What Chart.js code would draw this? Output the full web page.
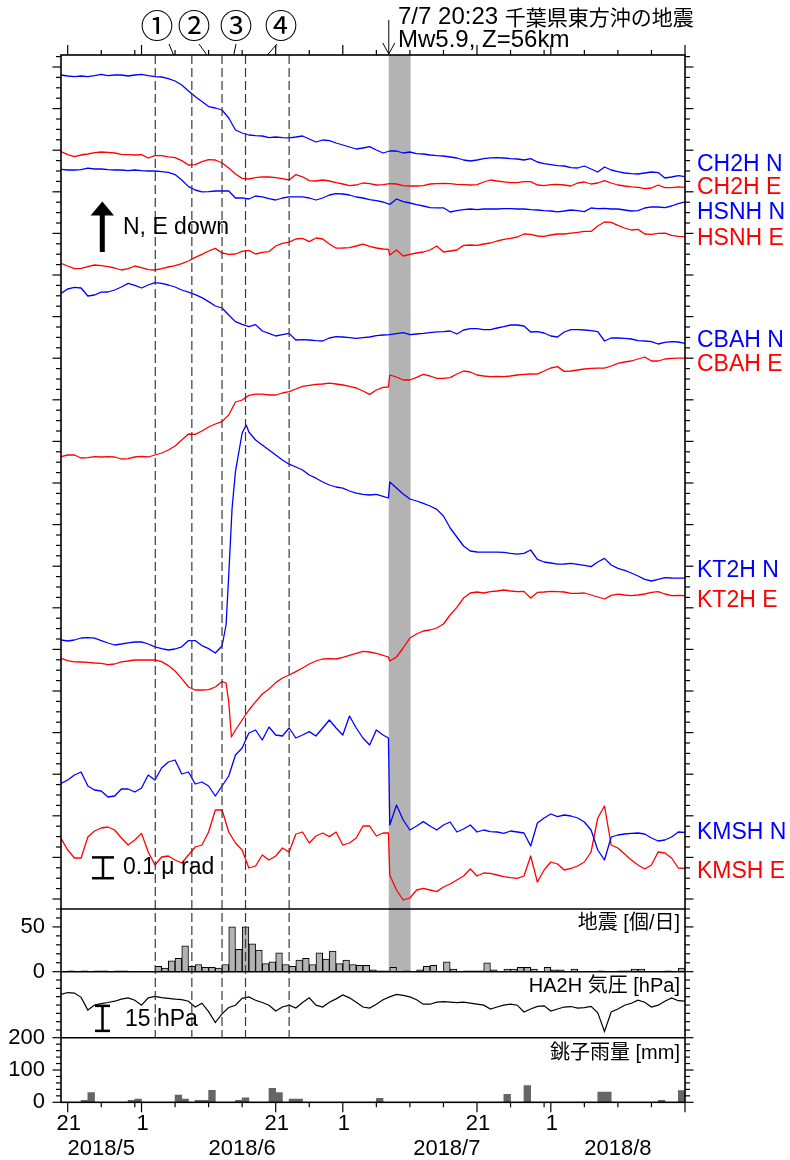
<!DOCTYPE html>
<html><head><meta charset="utf-8">
<script src="https://cdn.jsdelivr.net/npm/chart.js@4.4.1/dist/chart.umd.min.js"></script>
<style>html,body{margin:0;padding:0;background:#fff;}canvas{display:block;}</style>
</head><body>
<canvas id="c" width="790" height="1160"></canvas>
<script>
// ---------------- DATA ----------------
// time axis: days since 2018-05-20 00:00 (daily samples)
const DAYS = [0,1,2,3,4,5,6,7,8,9,10,11,12,13,14,15,16,17,18,19,20,21,22,23,24,25,26,27,28,29,30,31,32,33,34,35,36,37,38,39,40,41,42,43,44,45,46,47,48,49,50,51,52,53,54,55,56,57,58,59,60,61,62,63,64,65,66,67,68,69,70,71,72,73,74,75,76,77,78,79,80,81,82,83,84,85,86,87,88,89,90,91,92,93];
const EQ_DAY = 48.85;       // 2018-07-07 20:23
const BAND_END = 52.1;
const DASH_DAYS = [14.05, 19.5, 24.0, 27.5, 34.0];
const PERIOD_MARKS = ['\u2460','\u2461','\u2462','\u2463'];

// tilt traces: change relative to start (tilt units, 52 = 0.05 μrad), plus display offsets
const TRACE_NAMES = ['CH2H N','CH2H E','HSNH N','HSNH E','CBAH N','CBAH E','KT2H N','KT2H E','KMSH N','KMSH E'];
const TRACE_OFFSETS = [4170, 3785, 3700, 3230, 3080, 2260, 1345, 1255, 630, 355];

const CH2H_N = [0,-5,-8,-5,-8,-3,3,-3,0,0,
 -5,0,3,-3,-8,-10,-18,-30,-50,-80,
 -108,-133,-158,-165,-175,-215,-275,-290,-300,-303,
 -305,-313,-310,-313,-314,-310,-305,-320,-335,-325,
 -328,-340,-350,-360,-370,-365,-358,-375,-390,-380,
 -380,-390,-385,-393,-395,-400,-403,-405,-410,-415,
 -425,-430,-425,-418,-414,-413,-415,-418,-420,-425,
 -418,-435,-443,-448,-453,-455,-463,-465,-455,-470,
 -485,-460,-475,-483,-490,-493,-495,-490,-485,-488,
 -515,-510,-503,-508];
const CH2H_E = [2,-13,-23,-15,-10,-3,0,-2,-5,-12,
 -13,-15,-13,-30,-18,-18,-24,-28,-43,-65,
 -63,-48,-38,-40,-55,-80,-110,-132,-135,-128,
 -124,-125,-128,-133,-140,-113,-124,-143,-145,-140,
 -145,-153,-160,-168,-165,-155,-158,-165,-163,-158,
 -160,-168,-170,-170,-168,-160,-158,-157,-158,-162,
 -163,-165,-163,-150,-140,-145,-149,-153,-153,-148,
 -148,-165,-168,-163,-162,-165,-170,-155,-150,-160,
 -155,-143,-155,-165,-170,-174,-177,-183,-180,-165,
 -178,-178,-174,-177];
const HSNH_N = [-2,-5,-5,-3,4,0,0,-3,-5,-5,
 -8,-5,-8,-10,-10,-13,-17,-28,-55,-88,
 -105,-114,-113,-110,-110,-110,-145,-144,-150,-135,
 -139,-148,-155,-145,-139,-139,-139,-145,-155,-145,
 -130,-123,-125,-130,-140,-145,-153,-158,-165,-177,
 -150,-163,-170,-178,-185,-193,-194,-194,-215,-208,
 -203,-200,-203,-200,-200,-200,-198,-198,-200,-200,
 -203,-205,-208,-210,-214,-210,-205,-208,-213,-195,
 -198,-197,-200,-200,-205,-210,-208,-195,-189,-190,
 -193,-185,-173,-164];
const HSNH_E = [-2,-15,-28,-27,-18,-10,-13,-18,-25,-35,
 -28,-15,-23,-33,-35,-28,-20,-13,-3,10,
 28,43,60,73,50,43,45,58,63,45,
 53,57,85,98,104,120,123,107,125,120,
 95,74,75,77,85,94,83,75,70,40,
 65,35,43,50,55,65,85,55,60,65,
 88,90,88,95,100,110,118,123,130,145,
 143,135,133,140,145,145,149,153,158,158,
 185,205,203,188,175,165,168,145,143,148,
 149,138,133,132];
const CBAH_N = [-2,20,28,25,-15,-10,4,5,15,30,
 48,38,25,40,52,48,40,30,15,4,
 -8,-23,-43,-65,-75,-110,-143,-157,-168,-158,
 -190,-202,-215,-208,-202,-235,-233,-235,-238,-240,
 -225,-218,-220,-223,-227,-223,-220,-213,-210,-208,
 -203,-198,-208,-205,-202,-198,-194,-193,-190,-205,
 -185,-178,-178,-183,-183,-175,-168,-160,-160,-165,
 -195,-193,-200,-215,-220,-195,-183,-183,-185,-188,
 -193,-240,-225,-225,-227,-230,-238,-240,-243,-255,
 -247,-243,-245,-252];
const CBAH_E = [2,10,10,-5,-3,2,0,2,0,-10,
 -8,0,3,0,10,20,35,55,85,115,
 113,130,150,165,177,210,275,285,308,314,
 314,310,310,320,327,340,353,358,363,365,
 369,365,360,353,345,330,313,335,348,410,
 400,385,385,398,413,405,393,393,397,415,
 430,425,410,405,402,403,402,405,410,413,
 415,414,430,445,452,428,430,435,440,443,
 444,444,455,468,475,480,490,500,480,480,
 490,493,494,494];
const KT2H_N = [0,-5,0,10,12,9,-3,-15,-25,-20,
 -14,-10,-9,-20,-34,-43,-50,-45,-34,-3,
 -3,-28,-43,-65,-30,325,842,1035,1040,1000,
 975,950,925,900,879,865,850,825,809,790,
 775,765,759,745,734,728,725,728,718,790,
 760,730,705,695,683,670,653,620,560,515,
 470,445,440,439,439,439,438,433,429,433,
 450,403,390,385,379,380,383,378,373,367,
 390,408,375,358,348,335,320,303,295,303,
 312,310,309,309];
const KT2H_E = [-2,-13,-19,-20,-22,-25,-27,-33,-30,-19,
 -15,-10,-10,-10,-10,-18,-38,-65,-103,-145,
 -160,-160,-158,-145,-118,-219,-360,-310,-260,-219,
 -180,-155,-123,-100,-85,-68,-50,-30,-15,-5,
 -3,-5,3,13,23,33,30,23,13,-15,
 5,50,100,120,135,140,150,170,215,253,
 300,325,330,325,332,335,340,335,332,333,
 300,328,330,333,332,330,323,323,325,315,
 305,295,313,319,315,312,315,320,328,332,
 320,312,313,312];
const KMSH_N = [-2,15,40,55,-15,-35,-40,-70,-65,-30,
 -30,-45,-25,40,15,75,105,115,45,55,
 -5,5,-15,-65,-15,35,140,175,250,265,
 215,280,240,235,275,225,240,257,235,275,
 315,275,240,335,275,225,190,265,240,-210,
 -110,-185,-235,-215,-193,-215,-235,-210,-195,-245,
 -230,-210,-245,-235,-243,-245,-252,-240,-245,-250,
 -315,-200,-175,-155,-168,-160,-165,-175,-195,-235,
 -335,-385,-270,-260,-255,-252,-250,-255,-275,-290,
 -285,-270,-245,-247];
const KMSH_E = [-2,-60,-100,-100,5,35,50,55,40,0,
 -35,-10,23,-70,-135,-95,-90,-110,-125,-85,
 -45,-35,30,140,140,30,-25,-60,-150,-140,
 -85,-110,-90,-50,-70,20,30,-25,10,25,
 7,30,-35,-25,0,60,60,10,25,-185,
 -260,-310,-300,-260,-252,-260,-268,-245,-230,-210,
 -190,-155,-190,-175,-177,-185,-193,-198,-202,-190,
 -90,-220,-160,-120,-130,-160,-152,-140,-120,-70,
 100,160,-35,-50,-80,-110,-135,-155,-135,-70,
 -75,-100,-150,-152];
// extra sub-daily samples around sharp changes
const EXTRA_DAYS = {
  'HSNH E': [48.8], 'CBAH E': [48.8], 'KT2H N': [24.6, 25.5, 27.6, 48.8],
  'KT2H E': [24.6, 25.4, 48.8], 'KMSH N': [48.8], 'KMSH E': [48.8]
};
const EXTRA_VALS = {
  'HSNH E': [68], 'CBAH E': [350], 'KT2H N': [75, 660, 1075, 710],
  'KT2H E': [-125, -395, 5], 'KMSH N': [225], 'KMSH E': [25]
};

// earthquakes per day (day d covers [d, d+1))
const EQ_COUNTS = [0,1,0,1,0,1,1,0,1,1,
 0,0,0,0,6,4,12,15,29,6,
 8,5,5,4,8,50,25,50,31,24,
 9,11,21,8,6,13,15,8,21,14,
 23,9,13,8,7,7,2,1,1,5,
 0,1,0,2,6,7,0,11,3,0,
 1,1,1,10,2,0,3,3,5,5,
 3,0,5,2,2,0,3,0,0,0,
 1,0,0,1,1,3,3,0,0,0,
 1,0,4];
// HA2H air pressure, hPa
const PRESSURE = [1006.4,1007.5,1007.2,1004.6,997.0,1000.0,1000.8,1001.5,1002.3,1003.5,
 1004.3,1002.9,999.9,1004.3,1005.2,1004.4,1004.0,1003.5,1003.2,1002.3,
 998.8,1001.1,996.0,989.5,994.7,998.5,999.9,1004.0,1004.9,1002.9,
 1001.5,999.9,996.4,998.8,999.9,998.2,1001.5,1004.3,999.9,998.8,
 1001.7,1003.7,1006.1,1004.3,1001.7,998.8,998.2,1000.5,1003.2,1004.9,
 1006.4,1005.8,1004.9,1003.2,1000.5,1000.5,1001.7,1002.0,1001.7,1001.4,
 1001.7,1001.1,1000.5,999.9,997.6,998.8,999.9,1000.5,999.9,995.8,
 997.6,999.2,999.5,996.4,997.6,998.8,999.1,998.2,998.5,999.2,
 995.3,984.2,995.8,997.6,999.9,1001.1,1002.9,1001.7,998.8,999.9,
 1002.3,1004.3,1002.6,1002.3];
// Choshi daily rainfall, mm
const RAIN = [0,0,0,6,30,0,0,0,0,0,
 6,10,0,0,0,0,0,22,10,0,
 6,6,37,0,0,0,6,14,0,0,
 0,43,30,0,10,10,0,0,0,0,
 0,0,0,0,0,0,0,12,0,0,
 0,0,0,0,0,0,0,0,0,0,
 0,0,0,0,0,0,25,0,0,52,
 0,0,0,0,0,0,0,0,0,0,
 32,32,0,0,0,0,0,0,0,6,
 0,0,36];

const X_TICK_DAYS = [1,6,11,12,17,22,27,32,37,42,47,52,57,62,67,72,73,78,83,88,93];
const X_TICK_LABELS = ['21','','','1','','','','21','','1','','','','21','','','1','','','',''];
const MONTH_LABELS = ['2018/5','2018/6','2018/7','2018/8'];
const MONTH_CENTERS = [6, 27, 57.5, 83];

// ---------------- LAYOUT ----------------
const AREA = {left: 61, right: 685, top: 55, bottom: 1102.3};
const PANELS = {
  yT: {top: 55, bottom: 909, min: 0, max: 4270},
  yE: {top: 909, bottom: 971.7, min: 0, max: 70},
  yP: {top: 971.7, bottom: 1037.7, min: 980.4, max: 1020},
  yR: {top: 1037.7, bottom: 1102.3, min: 0, max: 200}
};
function fullRange(p) {
  const k = (p.max - p.min) / (p.bottom - p.top);
  return {min: p.min - (AREA.bottom - p.bottom) * k, max: p.max + (p.top - AREA.top) * k};
}
const BLUE = '#0000ff', RED = '#ff0000';
const SERIES = [CH2H_N, CH2H_E, HSNH_N, HSNH_E, CBAH_N, CBAH_E, KT2H_N, KT2H_E, KMSH_N, KMSH_E];
const LABEL_Y = [165, 188, 213, 239, 341, 365, 571, 601, 833, 872];

function tracePoints(i) {
  const name = TRACE_NAMES[i], off = TRACE_OFFSETS[i], vals = SERIES[i];
  const pts = DAYS.map((d, j) => ({x: d, y: off + vals[j]}));
  (EXTRA_DAYS[name] || []).forEach((d, j) => pts.push({x: d, y: off + EXTRA_VALS[name][j]}));
  pts.sort((a, b) => a.x - b.x);
  return pts;
}

const datasets = [];
TRACE_NAMES.forEach((n, i) => {
  datasets.push({type: 'line', label: n, data: tracePoints(i), yAxisID: 'yT',
    borderColor: i % 2 === 0 ? BLUE : RED, borderWidth: 1.3, pointRadius: 0, tension: 0,
    borderJoinStyle: 'round', fill: false});
});
datasets.push({type: 'line', label: 'pressure', data: DAYS.map((d, j) => ({x: d, y: PRESSURE[j]})),
  yAxisID: 'yP', borderColor: '#000', borderWidth: 1.2, pointRadius: 0, tension: 0, fill: false});
datasets.push({type: 'bar', label: 'eq', data: EQ_COUNTS.map((c, j) => ({x: DAYS[j] + 0.5, y: c})),
  yAxisID: 'yE', backgroundColor: '#b3b3b3', borderColor: '#000', borderWidth: 1,
  barPercentage: 1, categoryPercentage: 1, grouped: false});
datasets.push({type: 'bar', label: 'rain', data: RAIN.map((r, j) => ({x: DAYS[j] + 0.5, y: r})),
  yAxisID: 'yR', backgroundColor: '#666666', borderWidth: 0,
  barPercentage: 1, categoryPercentage: 1, grouped: false});

const FONT = '"Liberation Sans", "Noto Sans CJK JP", sans-serif';
function ln(ctx, x0, y0, x1, y1) { ctx.beginPath(); ctx.moveTo(x0, y0); ctx.lineTo(x1, y1); ctx.stroke(); }

const decor = {
  id: 'decor',
  beforeDatasetsDraw(chart) {
    const {ctx, scales: {x, yT, yE}} = chart;
    ctx.save();
    const xa = x.getPixelForValue(EQ_DAY), xb = x.getPixelForValue(BAND_END);
    const top = yT.getPixelForValue(PANELS.yT.max), bot = yE.getPixelForValue(0);
    ctx.fillStyle = '#b3b3b3';
    ctx.fillRect(xa, top, xb - xa, bot - top);
    ctx.restore();
  },
  afterDatasetsDraw(chart) {
    const {ctx, chartArea: A, scales: {x, yT, yE, yP, yR}} = chart;
    ctx.save();
    const yPb = yP.getPixelForValue(PANELS.yP.min);
    // dashed event lines
    ctx.strokeStyle = '#3a3a3a'; ctx.lineWidth = 1.2; ctx.setLineDash([9, 4]);
    DASH_DAYS.forEach(d => { const px = x.getPixelForValue(d); ln(ctx, px, A.top, px, yPb); });
    ctx.setLineDash([]);
    // frames
    ctx.strokeStyle = '#000'; ctx.lineWidth = 1.6;
    ctx.strokeRect(A.left, A.top, A.right - A.left, A.bottom - A.top);
    [yT.getPixelForValue(0), yE.getPixelForValue(0), yPb].forEach(py => ln(ctx, A.left, py, A.right, py));
    // y ticks (both sides)
    ctx.lineWidth = 1.2;
    const yTicks = (scale, vals, major) => vals.forEach(v => {
      const py = scale.getPixelForValue(v), len = major(v) ? 8.5 : 5;
      ln(ctx, A.left - len, py, A.left, py); ln(ctx, A.right, py, A.right + len, py);
    });
    const tiltTicks = []; for (let k = 0; k <= 81; k++) tiltTicks.push(50 + 52 * k);
    yTicks(yT, tiltTicks, v => ((v - 50) / 52) % 4 === 0);
    yTicks(yE, [0,10,20,30,40,50,60,70], v => v % 50 === 0);
    yTicks(yP, [985,990,995,1000,1005,1010,1015], v => false);
    yTicks(yR, [0,20,40,60,80,100,120,140,160,180,200], v => v % 100 === 0);
    // x ticks top & bottom
    X_TICK_DAYS.forEach((d, i) => {
      const px = x.getPixelForValue(d), len = (X_TICK_LABELS[i] !== '' || d === 93) ? 10 : 5;
      ln(ctx, px, A.bottom, px, A.bottom + len); ln(ctx, px, A.top - len, px, A.top);
    });
    // axis labels
    ctx.fillStyle = '#000'; ctx.textBaseline = 'middle';
    ctx.font = '22px ' + FONT; ctx.textAlign = 'right';
    [[yE,50],[yE,0]].forEach(([s,v]) => ctx.fillText(String(v), 45, s.getPixelForValue(v)));
    [[yR,200],[yR,100],[yR,0]].forEach(([s,v]) => ctx.fillText(String(v), 45, s.getPixelForValue(v)));
    ctx.textAlign = 'center';
    X_TICK_DAYS.forEach((d, i) => { if (X_TICK_LABELS[i]) ctx.fillText(X_TICK_LABELS[i], x.getPixelForValue(d) + 1, 1124); });
    MONTH_LABELS.forEach((m, i) => ctx.fillText(m, x.getPixelForValue(MONTH_CENTERS[i]), 1149));
    // series names
    ctx.font = '23px ' + FONT; ctx.textAlign = 'left';
    TRACE_NAMES.forEach((n, i) => { ctx.fillStyle = i % 2 === 0 ? BLUE : RED; ctx.fillText(n, 697, LABEL_Y[i]); });
    ctx.fillStyle = '#000';
    // panel titles
    ctx.font = '20px ' + FONT; ctx.textAlign = 'right';
    ctx.fillText('地震 [個/日]', 680, 923);
    ctx.fillText('HA2H 気圧 [hPa]', 680, 986);
    ctx.fillText('銚子雨量 [mm]', 680, 1053);
    // N, E down arrow
    ctx.beginPath(); ctx.moveTo(102.3, 201.5); ctx.lineTo(114, 215.5); ctx.lineTo(90.6, 215.5); ctx.closePath(); ctx.fill();
    ctx.fillRect(99.8, 215, 5, 37);
    ctx.font = '23px ' + FONT; ctx.textAlign = 'left';
    ctx.fillText('N, E down', 123, 228);
    // scale bars
    ctx.lineWidth = 2.5;
    const s0 = yT.getPixelForValue(154), s1 = yT.getPixelForValue(258);
    ln(ctx, 103, s0, 103, s1); ln(ctx, 92, s0, 114, s0); ln(ctx, 92, s1, 114, s1);
    ctx.fillText('0.1 μ rad', 123, 868);
    const p0 = yP.getPixelForValue(984.5), p1 = yP.getPixelForValue(999.5);
    ln(ctx, 102.5, p0, 102.5, p1); ln(ctx, 95, p0, 110, p0); ln(ctx, 95, p1, 110, p1);
    ctx.fillText('15 hPa', 125, 1020);
    // period marks
    ctx.lineWidth = 1;
    const mids = [0,1,2,3].map(i => (DASH_DAYS[i] + DASH_DAYS[i + 1]) / 2);
    const markX = [157, 194, 236, 281], startX = [169, 199, 236, 277];
    ctx.font = '33px "Noto Sans CJK JP", ' + FONT; ctx.textAlign = 'center';
    PERIOD_MARKS.forEach((m, i) => {
      ctx.fillText(m, markX[i], 25);
      ln(ctx, startX[i], 44, x.getPixelForValue(mids[i]), A.top);
    });
    // earthquake arrow + text
    const ex = x.getPixelForValue(EQ_DAY);
    ln(ctx, ex, 20, ex, A.top - 1);
    ln(ctx, ex - 6, 43, ex, A.top - 1); ln(ctx, ex + 6, 43, ex, A.top - 1);
    ctx.font = '24px ' + FONT; ctx.textAlign = 'left';
    const head = '7/7 20:23 ';
    ctx.fillText(head, 398, 17);
    const hw = ctx.measureText(head).width;
    ctx.font = '21px "Noto Sans CJK JP", ' + FONT;
    ctx.fillText('千葉県東方沖の地震', 398 + hw, 17);
    ctx.font = '24px ' + FONT;
    ctx.fillText('Mw5.9, Z=56km', 398, 40);
    ctx.restore();
  }
};

const scales = {
  x: {type: 'linear', min: 0, max: 93, display: false, offset: false}
};
['yT','yE','yP','yR'].forEach(id => {
  const r = fullRange(PANELS[id]);
  scales[id] = {type: 'linear', position: 'left', min: r.min, max: r.max, display: false};
});

new Chart(document.getElementById('c'), {
  type: 'line',
  data: {datasets},
  options: {
    responsive: false, animation: false, devicePixelRatio: 1, events: [],
    layout: {padding: {left: AREA.left, right: 790 - AREA.right, top: AREA.top, bottom: 1160 - AREA.bottom}},
    plugins: {legend: {display: false}, tooltip: {enabled: false}, title: {display: false}},
    scales
  },
  plugins: [decor]
});
</script></body></html>
